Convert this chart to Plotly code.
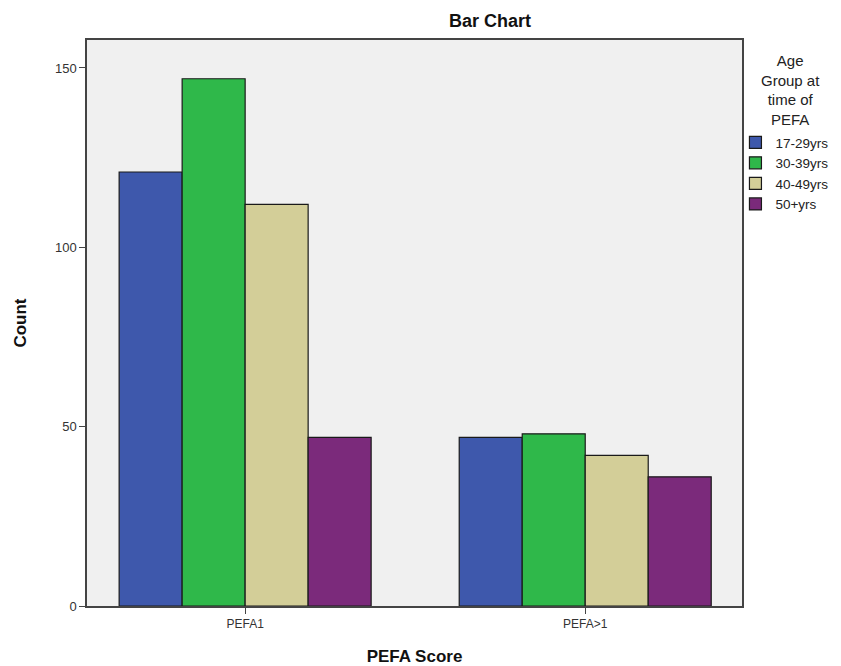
import plotly.graph_objects as go

categories = ["PEFA1", "PEFA>1"]
series_names = ["17-29yrs", "30-39yrs", "40-49yrs", "50+yrs"]
values_17_29 = [121, 47]
values_30_39 = [147, 48]
values_40_49 = [112, 42]
values_50_plus = [47, 36]
y_ticks = [0, 50, 100, 150]

colors = ["#3E58AC", "#2FB84A", "#D3CE98", "#7B2A7B"]
all_values = [values_17_29, values_30_39, values_40_49, values_50_plus]

fig = go.Figure()
for name, vals, col in zip(series_names, all_values, colors):
    fig.add_trace(go.Bar(
        x=categories, y=vals, name=name,
        marker=dict(color=col, line=dict(color="#1a1a1a", width=1.2)),
    ))

font_family = "Liberation Sans, Arial, sans-serif"
fig.update_layout(
    width=841, height=666,
    barmode="group", bargap=0.259, bargroupgap=0,
    paper_bgcolor="white", plot_bgcolor="#F0F0F0",
    margin=dict(l=87, r=99, t=40, b=60, autoexpand=False),
    font=dict(family=font_family, color="#111111"),
    title=dict(text="<b>Bar Chart</b>", xref="container", x=490/841, xanchor="center",
               yref="container", y=1-21/666, yanchor="middle",
               font=dict(size=18, color="#111111")),
    legend=dict(
        x=0.99, xanchor="left", y=1-(127-40)/566, yanchor="top",
        font=dict(size=13.5, color="#222222"),
        bgcolor="rgba(0,0,0,0)", itemwidth=30, tracegroupgap=0,
    ),
    xaxis=dict(
        type="category", range=[-0.465, 1.461],
        showline=True, linecolor="#444444", linewidth=1.5, mirror=True,
        ticks="outside", ticklen=6, tickcolor="#444444",
        tickfont=dict(size=12, color="#333333"),
        title=dict(text="<b>PEFA Score</b>", font=dict(size=17, color="#111111"), standoff=21),
        showgrid=False, automargin=False,
    ),
    yaxis=dict(
        range=[0, 157.8], tickvals=y_ticks,
        showline=True, linecolor="#444444", linewidth=1.5, mirror=True,
        ticks="outside", ticklen=6, tickcolor="#444444",
        tickfont=dict(size=13, color="#333333"),
        title=dict(text="<b>Count</b>", font=dict(size=17, color="#111111"), standoff=24),
        showgrid=False, zeroline=False, automargin=False,
    ),
)

fig.add_annotation(
    text="Age<br>Group at<br>time of<br>PEFA", xref="paper", yref="paper",
    x=1 + (790 - 742) / 655, y=1 - (50 - 40) / 566, xanchor="center", yanchor="top",
    align="center", showarrow=False,
    font=dict(size=15, color="#222222", family=font_family),
)

fig.write_html("out.html", config={"displayModeBar": False},
               post_script="document.body.style.margin='0';document.body.style.padding='0';")
